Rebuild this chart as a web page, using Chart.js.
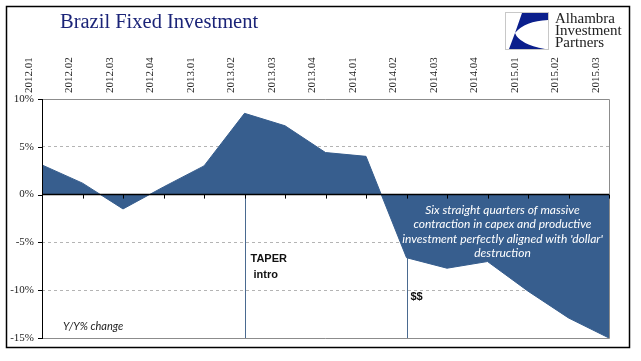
<!DOCTYPE html>
<html>
<head>
<meta charset="utf-8">
<script src="https://cdn.jsdelivr.net/npm/chart.js@4"></script>
<style>
  html, body { margin: 0; padding: 0; background: #fff; }
  #wrap { width: 641px; height: 361px; }
</style>
</head>
<body>
<div id="wrap"><canvas id="chart"></canvas></div>
<script>
const categories = ['2012.01', '2012.02', '2012.03', '2012.04', '2013.01', '2013.02', '2013.03', '2013.04',
  '2014.01', '2014.02', '2014.03', '2014.04', '2015.01', '2015.02', '2015.03'];
const yoyChange = [3.1, 1.2, -1.5, 0.8, 3.0, 8.5, 7.2, 4.4, 4.0, -6.6, -7.7, -7.0, -10.1, -12.9, -15.0];
const yTicks = [-15, -10, -5, 0, 5, 10];
const markerCats = ['2013.02', '2014.02'];

const fillColor = '#375e8e';

// frame, zero line, markers, notes, title and logo
const decor = {
  id: 'decor',
  afterDatasetsDraw(chart) {
    const ctx = chart.ctx;
    const a = chart.chartArea;
    const xs = chart.scales.x, ys = chart.scales.y;
    const y0 = ys.getPixelForValue(0);
    ctx.save();

    // plot border
    ctx.strokeStyle = '#8c8c8c';
    ctx.lineWidth = 1;
    ctx.beginPath();
    ctx.moveTo(a.left, a.top + 0.5); ctx.lineTo(a.right + 0.5, a.top + 0.5);
    ctx.lineTo(a.right + 0.5, a.bottom + 0.5); ctx.lineTo(a.left, a.bottom + 0.5);
    ctx.stroke();

    // marker lines
    ctx.strokeStyle = '#4a6a90';
    markerCats.forEach(c => {
      const i = categories.indexOf(c);
      const x = Math.round(xs.getPixelForValue(i)) + 0.5;
      ctx.beginPath();
      ctx.moveTo(x, ys.getPixelForValue(Math.min(yoyChange[i], 0)));
      ctx.lineTo(x, a.bottom);
      ctx.stroke();
    });

    // left axis with ticks
    ctx.strokeStyle = '#000';
    ctx.beginPath();
    ctx.moveTo(a.left + 0.5, a.top); ctx.lineTo(a.left + 0.5, a.bottom + 1);
    yTicks.forEach(v => {
      const y = Math.round(ys.getPixelForValue(v)) + 0.5;
      ctx.moveTo(a.left - 4, y); ctx.lineTo(a.left, y);
    });
    ctx.stroke();

    // zero line with category ticks
    ctx.lineWidth = 1.5;
    ctx.beginPath();
    ctx.moveTo(a.left, y0); ctx.lineTo(a.right, y0);
    ctx.stroke();
    ctx.lineWidth = 1;
    ctx.beginPath();
    categories.forEach((c, i) => {
      const x = Math.round(xs.getPixelForValue(i)) + 0.5;
      ctx.moveTo(x, y0); ctx.lineTo(x, y0 + 4);
    });
    ctx.stroke();

    // notes
    const xT = xs.getPixelForValue(categories.indexOf('2013.02'));
    const xD = xs.getPixelForValue(categories.indexOf('2014.02'));
    ctx.fillStyle = '#111';
    ctx.textAlign = 'left';
    ctx.font = 'bold 11px "Liberation Sans", sans-serif';
    ctx.fillText('TAPER', xT + 6, ys.getPixelForValue(-7.1));
    ctx.fillText('intro', xT + 9, ys.getPixelForValue(-8.7));
    ctx.fillText('$$', xD + 4, ys.getPixelForValue(-11.0));

    ctx.fillStyle = '#fff';
    ctx.textAlign = 'center';
    ctx.font = 'italic 12px Lato, sans-serif';
    const cx = xs.getPixelForValue(11) + 15;
    const lines = ['Six straight quarters of massive', 'contraction in capex and productive',
      "investment perfectly aligned with 'dollar'", 'destruction'];
    lines.forEach((t, k) => ctx.fillText(t, cx, ys.getPixelForValue(-2.0 - k * 1.52)));

    ctx.fillStyle = '#222';
    ctx.textAlign = 'left';
    ctx.font = 'italic 11px Lato, sans-serif';
    ctx.fillText('Y/Y% change', a.left + 21, ys.getPixelForValue(-14.2));

    // outer frame
    ctx.strokeStyle = '#000';
    ctx.lineWidth = 1.5;
    ctx.strokeRect(6.5, 6.5, 623, 341);

    // title
    ctx.fillStyle = '#1b2478';
    ctx.font = '20.5px "Liberation Serif", serif';
    ctx.fillText('Brazil Fixed Investment', 60, 28);

    // logo
    ctx.strokeStyle = '#c8c8c8';
    ctx.lineWidth = 1;
    ctx.strokeRect(505.5, 12.5, 43, 37);
    ctx.fillStyle = '#0b1f8c';
    ctx.beginPath();
    ctx.moveTo(522, 13); ctx.lineTo(548, 13); ctx.lineTo(548, 20);
    ctx.quadraticCurveTo(525, 21, 515, 33);
    ctx.closePath();
    ctx.fill();
    ctx.beginPath();
    ctx.moveTo(515, 33);
    ctx.quadraticCurveTo(519, 44, 545, 49);
    ctx.lineTo(509, 49);
    ctx.closePath();
    ctx.fill();
    ctx.fillStyle = '#222';
    ctx.font = '15px "Liberation Serif", serif';
    ctx.fillText('Alhambra', 555, 23);
    ctx.fillText('Investment', 555, 35);
    ctx.fillText('Partners', 555, 47);
    ctx.restore();
  }
};

new Chart(document.getElementById('chart'), {
  type: 'line',
  data: {
    labels: categories,
    datasets: [{
      label: 'Brazil Fixed Investment',
      data: yoyChange,
      fill: 'origin',
      backgroundColor: fillColor,
      borderColor: fillColor,
      borderWidth: 1,
      pointRadius: 0,
      tension: 0
    }]
  },
  options: {
    responsive: true,
    maintainAspectRatio: false,
    animation: false,
    layout: { padding: { left: 0, right: 32, top: 0, bottom: 23 } },
    plugins: { legend: { display: false }, tooltip: { enabled: false } },
    scales: {
      x: {
        type: 'category',
        position: 'top',
        offset: false,
        grid: { display: false, drawTicks: false },
        border: { display: false },
        ticks: {
          autoSkip: false,
          minRotation: 90,
          maxRotation: 90,
          padding: 6,
          color: '#222',
          font: { family: '"Liberation Serif", serif', size: 11 }
        },
        afterFit(s) { s.height = 99; }
      },
      y: {
        min: -15,
        max: 10,
        grid: {
          drawTicks: false,
          color: c => (c.tick && [0, 10, -15].includes(c.tick.value)) ? 'rgba(0,0,0,0)' : '#b4b4b4'
        },
        border: { display: false, dash: [3, 3] },
        ticks: {
          stepSize: 5,
          padding: 8,
          color: '#222',
          font: { family: '"Liberation Serif", serif', size: 11 },
          callback: v => v + '%'
        },
        afterFit(s) { s.width = 42; }
      }
    }
  },
  plugins: [decor]
});
</script>
</body>
</html>
